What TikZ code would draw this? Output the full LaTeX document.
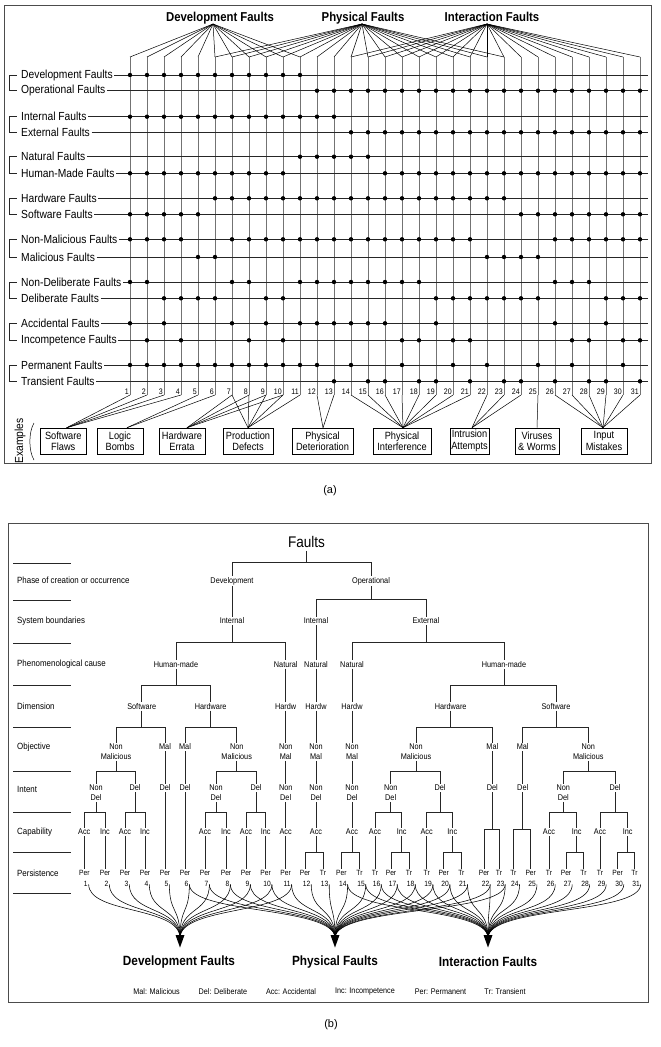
\documentclass[tikz,border=0pt]{standalone}
\usepackage{fontspec}
\setmainfont{Liberation Sans}
\newfontfamily\cnd[FakeStretch=0.88]{Liberation Sans}
\usetikzlibrary{calc}
\newcommand\tsplit[4]{\draw[tl] (#1.south) -- (#1.south |- #2) -| (#3.north); \draw[tl] (#1.south |- #2) -| (#4.north);}
\newcommand\tdirect[2]{\draw[tl] (#1.south) -- (#1.south |- #2.north);}
\begin{document}
\begin{tikzpicture}[x=1pt,y=-1pt,
  rowlab/.style={anchor=west,inner sep=1.5pt,font=\cnd\fontsize{11.7}{13}\selectfont},
  ttl/.style={anchor=south,inner sep=0pt,text depth=2.5pt,font=\cnd\bfseries\fontsize{12.9}{14}\selectfont},
  hline/.style={line width=0.6pt,black!85},
  vline/.style={line width=0.6pt,black!55},
  fan/.style={line width=0.5pt,black},
  anum/.style={inner sep=0.8pt,font=\cnd\fontsize{8}{9}\selectfont},
  exbox/.style={draw,line width=0.6pt,align=center,minimum height=26pt,inner sep=1pt,font=\cnd\fontsize{10.5}{11.5}\selectfont},
  frm/.style={line width=1pt,black!70},
  tn/.style={anchor=north,inner sep=1.2pt,align=center,font=\cnd\fontsize{8.3}{9.8}\selectfont},
  tl/.style={line width=0.7pt,black!85},
  blab/.style={anchor=west,inner sep=0pt,font=\cnd\fontsize{9}{10}\selectfont},
  pt/.style={anchor=north,inner sep=1.2pt,font=\cnd\fontsize{7.6}{9}\selectfont},
  bnum/.style={inner sep=0.8pt,font=\cnd\fontsize{7.6}{9}\selectfont},
  cv/.style={line width=0.55pt,black},
  bt/.style={font=\cnd\bfseries\fontsize{13.4}{15}\selectfont},
  leg/.style={font=\cnd\fontsize{8.2}{9}\selectfont}]
\useasboundingbox (0,0) rectangle (661,1047);
\fill[white] (0,0) rectangle (661,1047);
% ================= (a) =================
\draw[frm] (4.5,5.5) rectangle (651,463);
\node[ttl] (tdev) at (220,24) {Development Faults};
\node[ttl] (tphy) at (363,24) {Physical Faults};
\node[ttl] (tint) at (492,24) {Interaction Faults};
\coordinate (xdev) at ([xshift=-7pt]tdev.south);
\coordinate (xphy) at ([xshift=-1pt]tphy.south);
\coordinate (xint) at ([xshift=-5pt]tint.south);
\foreach \c in {1,...,31} {
  \pgfmathsetmacro\xx{130+17*(\c-1)}
  \coordinate (ct\c) at (\xx,57);
  \coordinate (cb\c) at (\xx,395);
  \draw[vline] (ct\c) -- (cb\c);
  \node[anum,anchor=south east] (n\c) at (\xx-0.3,395.5) {\c};
}
\foreach \c in {1,...,11} \draw[fan] (xdev) -- (ct\c);
\foreach \c in {6,...,23} \draw[fan] (xphy) -- (ct\c);
\foreach \c in {14,...,31} \draw[fan] (xint) -- (ct\c);
\foreach \k/\y/\t in {1/75/Development Faults,2/90.7/Operational Faults,3/116.7/Internal Faults,4/132.3/External Faults,5/156.7/Natural Faults,6/173.3/Human-Made Faults,7/198.3/Hardware Faults,8/214.3/Software Faults,9/239.3/Non-Malicious Faults,10/257/Malicious Faults,11/282/Non-Deliberate Faults,12/298.3/Deliberate Faults,13/323.3/Accidental Faults,14/340.3/Incompetence Faults,15/365/Permanent Faults,16/381.3/Transient Faults} {
  \node[rowlab] (r\k) at (19.5,\y) {\t};
  \coordinate (re\k) at (648,\y);
  \draw[hline] (r\k.east) -- (re\k);
}
\foreach \a/\b in {75/90.7,116.7/132.3,156.7/173.3,198.3/214.3,239.3/257,282/298.3,323.3/340.3,365/381.3}
  \draw[hline] (16.5,\a) -- (9,\a) -- (9,\b) -- (16.5,\b);
\foreach \k/\cols in {1/{1,...,11},2/{12,...,31},3/{1,...,13},4/{14,...,31},5/{11,...,15},6/{1,...,10,16,17,...,31},7/{6,...,23},8/{1,...,5,24,25,...,31},9/{1,2,3,4,7,8,...,21,26,27,...,31},10/{5,6,22,23,24,25},11/{1,2,7,8,11,12,13,14,15,16,17,18,26,27,28},12/{3,4,5,6,9,10,19,20,21,22,23,24,25,29,30,31},13/{1,3,7,9,11,12,13,14,15,16,19,26,29},14/{2,4,8,10,17,18,20,21,27,28,30,31},15/{1,...,12,14,17,20,22,25,27,30},16/{13,15,16,18,19,21,23,24,26,28,29,31}} {
  \foreach \c in \cols { \fill (ct\c |- re\k) circle (2.2pt); }
}
\node[exbox,minimum width=45.3pt] (e1) at (63.3,441) {Software\\Flaws};
\node[exbox,minimum width=46pt] (e2) at (120,441) {Logic\\Bombs};
\node[exbox,minimum width=46pt] (e3) at (182,441) {Hardware\\Errata};
\node[exbox,minimum width=50pt] (e4) at (248,441) {Production\\Defects};
\node[exbox,minimum width=61pt] (e5) at (322.5,441) {Physical\\Deterioration};
\node[exbox,minimum width=58pt] (e6) at (402,441) {Physical\\Interference};
\node[exbox,minimum width=39pt] (e7) at (469.5,441) {Intrusion\\Attempts};
\node[exbox,minimum width=44pt] (e8) at (537,441) {Viruses\\\& Worms};
\node[exbox,minimum width=46pt] (e9) at (604,441) {Input\\Mistakes};
\foreach \c in {1,2,3,4} \draw[fan] (cb\c) -- ([xshift=3.4pt]e1.north);
\foreach \c in {5,6} \draw[fan] (cb\c) -- ([xshift=7pt]e2.north);
\foreach \c in {7,8,9,10} \draw[fan] (cb\c) -- ([xshift=5pt]e3.north);
\foreach \c in {7,8,9,10,11} \draw[fan] (cb\c) -- (e4.north);
\foreach \c in {12,13} \draw[fan] (cb\c) -- ([xshift=0.5pt]e5.north);
\foreach \c in {14,...,21} \draw[fan] (cb\c) -- ([xshift=1pt]e6.north);
\foreach \c in {22,23,24} \draw[fan] (cb\c) -- ([xshift=2.5pt]e7.north);
\draw[fan] (cb25) -- (e8.north);
\foreach \c in {26,...,31} \draw[fan] (cb\c) -- ([xshift=-1pt]e9.north);
\node[rotate=90,font=\cnd\fontsize{11.7}{13}\selectfont] (exl) at (20,441) {Examples};
\draw[line width=0.5pt] (34,423) .. controls (28.5,432) and (28.5,451) .. (34,460);
\node[font=\fontsize{11}{13}\selectfont] (la) at (330,491) {(a)};
% ================= (b) =================
\draw[frm] (8,523) rectangle (648,1002);
\foreach \y in {563,600,643,685,727,771,812,852,893} \draw[tl] (13,\y) -- (71,\y);
\foreach \k/\y/\t in {1/580/Phase of creation or occurrence,2/621/System boundaries,3/664/Phenomenological cause,4/706/Dimension,5/747/Objective,6/789/Intent,7/832/Capability,8/873/Persistence}
  \node[blab] (bl\k) at (17,\y) {\t};
\coordinate (B1) at (0,562); \coordinate (B2) at (0,599); \coordinate (B3) at (0,642);
\coordinate (B4) at (0,685); \coordinate (B5) at (0,727); \coordinate (B6) at (0,771);
\coordinate (B7) at (0,812); \coordinate (B7b) at (0,829); \coordinate (B8) at (0,852);
\node[inner sep=3pt,font=\cnd\fontsize{15.4}{17}\selectfont] (F) at (306.5,542) {Faults};
\node[tn] (dev) at (232,575.8) {Development};
\node[tn] (op) at (371,575.8) {Operational};
\tsplit{F}{B1}{dev}{op}
\node[tn] (intd) at (232,616.5) {Internal};
\node[tn] (into) at (316,616.5) {Internal};
\node[tn] (ext) at (426,616.5) {External};
\tdirect{dev}{intd}
\tsplit{op}{B2}{into}{ext}
\node[tn] (hm1) at (176,659.8) {Human-made};
\node[tn] (nata) at (285.7,659.8) {Natural};
\node[tn] (natb) at (316,659.8) {Natural};
\node[tn] (natc) at (352,659.8) {Natural};
\node[tn] (hm2) at (504,659.8) {Human-made};
\tsplit{intd}{B3}{hm1}{nata}
\tdirect{into}{natb}
\tsplit{ext}{B3}{natc}{hm2}
\node[tn] (sw1) at (141.7,701.8) {Software};
\node[tn] (hw1) at (210.7,701.8) {Hardware};
\node[tn] (hwa) at (285.7,701.8) {Hardw};
\node[tn] (hwb) at (316,701.8) {Hardw};
\node[tn] (hwc) at (352,701.8) {Hardw};
\node[tn] (hw2) at (450.7,701.8) {Hardware};
\node[tn] (sw2) at (556,701.8) {Software};
\tsplit{hm1}{B4}{sw1}{hw1}
\tdirect{nata}{hwa} \tdirect{natb}{hwb} \tdirect{natc}{hwc}
\tsplit{hm2}{B4}{hw2}{sw2}
\node[tn] (nm1) at (116,742.5) {Non\\Malicious};
\node[tn] (mal1) at (165,742.5) {Mal};
\node[tn] (mal2) at (185,742.5) {Mal};
\node[tn] (nm2) at (236.7,742.5) {Non\\Malicious};
\node[tn] (nma) at (285.7,742.5) {Non\\Mal};
\node[tn] (nmb) at (316,742.5) {Non\\Mal};
\node[tn] (nmc) at (352,742.5) {Non\\Mal};
\node[tn] (nm3) at (416,742.5) {Non\\Malicious};
\node[tn] (mal3) at (492.3,742.5) {Mal};
\node[tn] (mal4) at (522.7,742.5) {Mal};
\node[tn] (nm4) at (588.3,742.5) {Non\\Malicious};
\tsplit{sw1}{B5}{nm1}{mal1}
\tsplit{hw1}{B5}{mal2}{nm2}
\tdirect{hwa}{nma} \tdirect{hwb}{nmb} \tdirect{hwc}{nmc}
\tsplit{hw2}{B5}{nm3}{mal3}
\tsplit{sw2}{B5}{mal4}{nm4}
\node[tn] (nd1) at (96,783.5) {Non\\Del};
\node[tn] (d1) at (135,783.5) {Del};
\node[tn] (d2) at (165,783.5) {Del};
\node[tn] (d3) at (185,783.5) {Del};
\node[tn] (nd2) at (216,783.5) {Non\\Del};
\node[tn] (d4) at (256,783.5) {Del};
\node[tn] (nda) at (285.7,783.5) {Non\\Del};
\node[tn] (ndb) at (316,783.5) {Non\\Del};
\node[tn] (ndc) at (352,783.5) {Non\\Del};
\node[tn] (nd3) at (390.7,783.5) {Non\\Del};
\node[tn] (d5) at (440,783.5) {Del};
\node[tn] (d6) at (492.3,783.5) {Del};
\node[tn] (d7) at (522.7,783.5) {Del};
\node[tn] (nd4) at (563.3,783.5) {Non\\Del};
\node[tn] (d8) at (615,783.5) {Del};
\tsplit{nm1}{B6}{nd1}{d1}
\tdirect{mal1}{d2} \tdirect{mal2}{d3}
\tsplit{nm2}{B6}{nd2}{d4}
\tdirect{nma}{nda} \tdirect{nmb}{ndb} \tdirect{nmc}{ndc}
\tsplit{nm3}{B6}{nd3}{d5}
\tdirect{mal3}{d6} \tdirect{mal4}{d7}
\tsplit{nm4}{B6}{nd4}{d8}
\foreach \n/\x/\t in {a1/84.3/Acc,i1/105/Inc,a2/125/Acc,i2/145/Inc,a3/205/Acc,i3/226/Inc,a4/246/Acc,i4/265.7/Inc,a5/285.7/Acc,a6/316/Acc,a7/352/Acc,a8/375/Acc,i8/401.7/Inc,a9/426.7/Acc,i9/452.3/Inc,a10/549/Acc,i10/576.7/Inc,a11/600/Acc,i11/627.7/Inc}
  \node[tn] (\n) at (\x,827.5) {\t};
\tsplit{nd1}{B7}{a1}{i1}
\tsplit{d1}{B7}{a2}{i2}
\tsplit{nd2}{B7}{a3}{i3}
\tsplit{d4}{B7}{a4}{i4}
\tdirect{nda}{a5} \tdirect{ndb}{a6} \tdirect{ndc}{a7}
\tsplit{nd3}{B7}{a8}{i8}
\tsplit{d5}{B7}{a9}{i9}
\tsplit{nd4}{B7}{a10}{i10}
\tsplit{d8}{B7}{a11}{i11}
\foreach \c/\x/\t in {1/84.3/Per,2/105/Per,3/125/Per,4/145/Per,5/165/Per,6/185/Per,7/205/Per,8/226/Per,9/246/Per,10/265.7/Per,11/285.7/Per,12/305/Per,13/323/Tr,14/341.4/Per,15/359.5/Tr,16/375/Tr,17/391/Per,18/409/Tr,19/426.7/Tr,20/443.7/Per,21/461.4/Tr,22/484/Per,23/499/Tr,24/513.3/Tr,25/530.7/Per,26/549/Tr,27/566/Per,28/583.5/Tr,29/600/Tr,30/617.6/Per,31/634.5/Tr} {
  \node[pt] (p\c) at (\x,868.5) {\t};
  \node[bnum] (q\c) at (\x+1.5,884.3) {\c};
}
\tdirect{a1}{p1} \tdirect{i1}{p2} \tdirect{a2}{p3} \tdirect{i2}{p4}
\tdirect{d2}{p5} \tdirect{d3}{p6}
\tdirect{a3}{p7} \tdirect{i3}{p8} \tdirect{a4}{p9} \tdirect{i4}{p10} \tdirect{a5}{p11}
\tsplit{a6}{B8}{p12}{p13}
\tsplit{a7}{B8}{p14}{p15}
\tdirect{a8}{p16}
\tsplit{i8}{B8}{p17}{p18}
\tdirect{a9}{p19}
\tsplit{i9}{B8}{p20}{p21}
\tsplit{d6}{B7b}{p22}{p23}
\tsplit{d7}{B7b}{p24}{p25}
\tdirect{a10}{p26}
\tsplit{i10}{B8}{p27}{p28}
\tdirect{a11}{p29}
\tsplit{i11}{B8}{p30}{p31}
\coordinate (AD) at (180,938);
\coordinate (AP) at (335,938);
\coordinate (AI) at (488,938);
\foreach \c in {1,...,11} \draw[cv] (q\c.east) .. controls +(0,30) and +(0,-32) .. (AD);
\foreach \c in {6,...,23} \draw[cv] (q\c.east) .. controls +(0,30) and +(0,-32) .. (AP);
\foreach \c in {14,...,31} \draw[cv] (q\c.east) .. controls +(0,30) and +(0,-32) .. (AI);
\foreach \A in {AD,AP,AI}
  \fill ([xshift=-4.5pt,yshift=3pt]\A) -- ([xshift=4.5pt,yshift=3pt]\A) -- ([yshift=-9.5pt]\A) -- cycle;
\node[bt] (bD) at (179,962) {Development Faults};
\node[bt] (bP) at (335,962) {Physical Faults};
\node[bt] (bI) at (488,962) {Interaction Faults};
\node[leg] (g1) at (156.6,991.7) {Mal: Malicious};
\node[leg] (g2) at (222.9,991.7) {Del: Deliberate};
\node[leg] (g3) at (291,991.7) {Acc: Accidental};
\node[leg] (g4) at (365,991.7) {Inc: Incompetence};
\node[leg] (g5) at (440.5,991.7) {Per: Permanent};
\node[leg] (g6) at (505,991.7) {Tr: Transient};
\node[font=\fontsize{11}{13}\selectfont] (lb) at (331,1025) {(b)};
\end{tikzpicture}
\end{document}
